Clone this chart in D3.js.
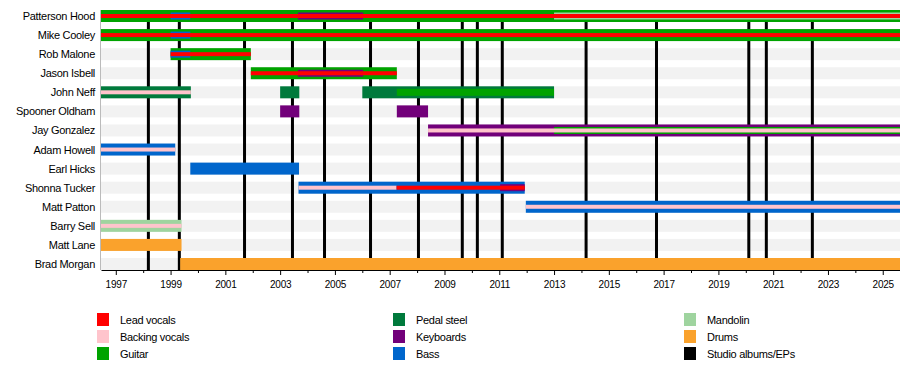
<!DOCTYPE html>
<html>
<head>
<meta charset="utf-8">
<script src="https://cdn.jsdelivr.net/npm/d3@7"></script>
<style>
  body { margin: 0; background: #fff; }
  svg { font-family: "Liberation Sans", Arial, sans-serif; }
</style>
</head>
<body>
<svg id="chart" width="900" height="370"></svg>
<script>
const START = 1996.46;
const END = 2025.63;

const members = [
  "Patterson Hood", "Mike Cooley", "Rob Malone", "Jason Isbell", "John Neff",
  "Spooner Oldham", "Jay Gonzalez", "Adam Howell", "Earl Hicks", "Shonna Tucker",
  "Matt Patton", "Barry Sell", "Matt Lane", "Brad Morgan"
];

const roles = [
  "Lead vocals", "Backing vocals", "Guitar",
  "Pedal steel", "Keyboards", "Bass",
  "Mandolin", "Drums", "Studio albums/EPs"
];

// studio albums / EPs release dates (decimal years)
const albums = [1998.19, 1999.32, 2001.70, 2003.45, 2004.62, 2006.30, 2008.05,
  2009.65, 2010.20, 2011.11, 2014.17, 2016.74, 2020.11, 2020.75, 2022.43];

// [member, role, from, to, layer]  layer 0 = main, 1 = second role, 2 = vocals
const periods = [
  ["Patterson Hood", "Guitar", START, END, 0],
  ["Patterson Hood", "Bass", 1999.0, 1999.72, 1],
  ["Patterson Hood", "Keyboards", 2003.65, 2006.03, 1],
  ["Patterson Hood", "Mandolin", 2013.0, END, 1],
  ["Patterson Hood", "Lead vocals", START, END, 2],
  ["Mike Cooley", "Guitar", START, END, 0],
  ["Mike Cooley", "Bass", 1999.0, 1999.72, 1],
  ["Mike Cooley", "Lead vocals", START, END, 2],
  ["Rob Malone", "Guitar", 1999.0, 2001.93, 0],
  ["Rob Malone", "Bass", 1999.0, 1999.72, 1],
  ["Rob Malone", "Lead vocals", 1999.0, 2001.93, 2],
  ["Jason Isbell", "Guitar", 2001.93, 2007.26, 0],
  ["Jason Isbell", "Keyboards", 2003.65, 2006.03, 1],
  ["Jason Isbell", "Lead vocals", 2001.93, 2007.26, 2],
  ["John Neff", "Pedal steel", START, 1999.74, 0],
  ["John Neff", "Backing vocals", START, 1999.74, 2],
  ["John Neff", "Pedal steel", 2003.0, 2003.7, 0],
  ["John Neff", "Pedal steel", 2006.0, 2013.0, 0],
  ["John Neff", "Guitar", 2007.26, 2013.0, 1],
  ["Spooner Oldham", "Keyboards", 2003.0, 2003.7, 0],
  ["Spooner Oldham", "Keyboards", 2007.26, 2008.4, 0],
  ["Jay Gonzalez", "Keyboards", 2008.4, END, 0],
  ["Jay Gonzalez", "Guitar", 2013.0, END, 1],
  ["Jay Gonzalez", "Backing vocals", 2008.4, END, 2],
  ["Adam Howell", "Bass", START, 1999.17, 0],
  ["Adam Howell", "Backing vocals", START, 1999.17, 2],
  ["Earl Hicks", "Bass", 1999.72, 2003.69, 0],
  ["Shonna Tucker", "Bass", 2003.67, 2011.93, 0],
  ["Shonna Tucker", "Keyboards", 2011.03, 2011.93, 1],
  ["Shonna Tucker", "Backing vocals", 2003.67, 2007.25, 2],
  ["Shonna Tucker", "Lead vocals", 2007.25, 2011.93, 2],
  ["Matt Patton", "Bass", 2011.97, END, 0],
  ["Matt Patton", "Backing vocals", 2011.97, END, 2],
  ["Barry Sell", "Mandolin", START, 1999.4, 0],
  ["Barry Sell", "Backing vocals", START, 1999.4, 2],
  ["Matt Lane", "Drums", START, 1999.4, 0],
  ["Brad Morgan", "Drums", 1999.35, END, 0]
];

const years = d3.range(1997, 2026);

// styles
const palette = ["#ff0000", "#ffc4cc", "#00a300", "#007a3c", "#72007a",
  "#0066cc", "#9fd49f", "#faa22c", "#000000"];
const color = d3.scaleOrdinal(roles, palette);
const layerHeight = [12, 7, 4];

const svg = d3.select("#chart");
const x = d3.scaleLinear().domain([START, END]).range([101, 900]);
const y = d3.scalePoint().domain(members).range([16, 264]);

// row bands
svg.append("g")
  .selectAll("rect")
  .data(members)
  .join("rect")
  .attr("x", x(START))
  .attr("y", d => y(d) - 6)
  .attr("width", x(END) - x(START))
  .attr("height", 12)
  .attr("fill", "#f2f2f2");

// album lines
svg.append("g")
  .selectAll("line")
  .data(albums)
  .join("line")
  .attr("x1", d => x(d))
  .attr("x2", d => x(d))
  .attr("y1", 10)
  .attr("y2", 270)
  .attr("stroke", "#000")
  .attr("stroke-width", 3);

// left edge
svg.append("line")
  .attr("x1", 100.5).attr("x2", 100.5)
  .attr("y1", 10).attr("y2", 270)
  .attr("stroke", "#bbb");

// member bars
svg.append("g")
  .selectAll("rect")
  .data(periods.slice().sort((a, b) => a[4] - b[4]))
  .join("rect")
  .attr("x", d => x(d[2]))
  .attr("width", d => x(d[3]) - x(d[2]))
  .attr("y", d => y(d[0]) - layerHeight[d[4]] / 2)
  .attr("height", d => layerHeight[d[4]])
  .attr("fill", d => color(d[1]));

// names
svg.append("g")
  .selectAll("text")
  .data(members)
  .join("text")
  .attr("x", 95)
  .attr("y", d => y(d) + 4)
  .attr("text-anchor", "end")
  .attr("font-size", 11)
  .attr("letter-spacing", -0.3)
  .attr("fill", "#000")
  .text(d => d);

// time axis
const axis = svg.append("g")
  .attr("transform", "translate(0,270)")
  .call(d3.axisBottom(x)
    .tickValues(years)
    .tickFormat(d => d % 2 ? d : "")
    .tickSize(5)
    .tickSizeOuter(0)
    .tickPadding(6));
axis.select(".domain").attr("stroke", "#000");
axis.selectAll(".tick line")
  .attr("stroke", "#000")
  .attr("y2", d => d % 2 ? 5 : 3);
axis.selectAll(".tick text")
  .attr("font-family", "Liberation Sans, Arial, sans-serif")
  .attr("font-size", 10)
  .attr("letter-spacing", -0.2)
  .attr("fill", "#000");

// legend, three columns
const legendCols = [97, 393, 684];
const legend = svg.append("g")
  .selectAll("g")
  .data(roles)
  .join("g")
  .attr("transform", (d, i) => `translate(${legendCols[Math.floor(i / 3)]},${313 + (i % 3) * 17})`);
legend.append("rect")
  .attr("width", 12)
  .attr("height", 13)
  .attr("fill", d => color(d));
legend.append("text")
  .attr("x", 23)
  .attr("y", 10.5)
  .attr("font-size", 11)
  .attr("letter-spacing", -0.3)
  .text(d => d);
</script>
</body>
</html>
